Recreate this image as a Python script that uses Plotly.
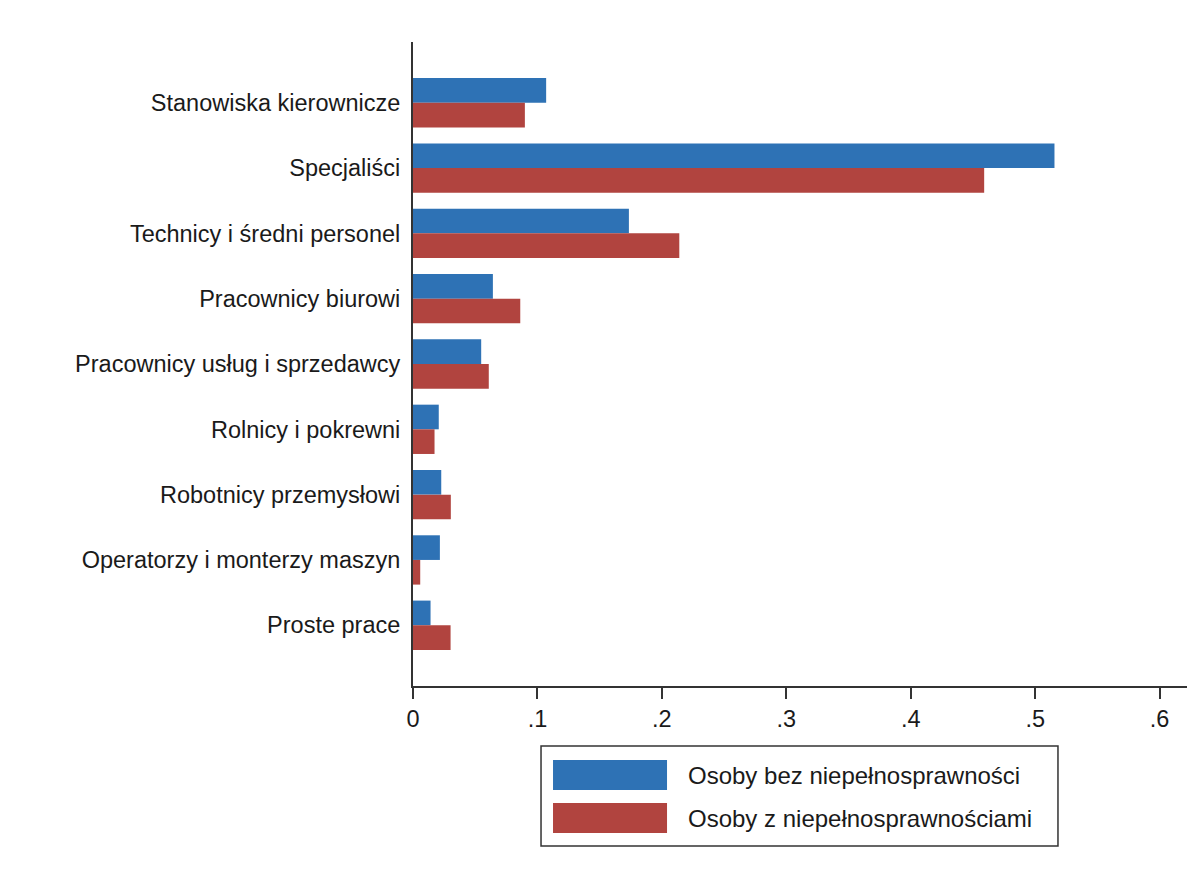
import plotly.graph_objects as go

categories = ["Stanowiska kierownicze", "Specjaliści", "Technicy i średni personel",
              "Pracownicy biurowi", "Pracownicy usług i sprzedawcy", "Rolnicy i pokrewni",
              "Robotnicy przemysłowi", "Operatorzy i monterzy maszyn", "Proste prace"]
bez = [0.107, 0.5155, 0.1735, 0.0642, 0.0548, 0.0207, 0.0227, 0.0216, 0.0141]
z = [0.0899, 0.459, 0.214, 0.0862, 0.0609, 0.0173, 0.0304, 0.0058, 0.0302]
series_names = ["Osoby bez niepełnosprawności", "Osoby z niepełnosprawnościami"]
tick_vals = [0, 0.1, 0.2, 0.3, 0.4, 0.5, 0.6]
tick_text = ["0", ".1", ".2", ".3", ".4", ".5", ".6"]

BLUE = "#2E72B5"
RED = "#B1443F"
FONT = "Liberation Sans, Arial, sans-serif"

fig = go.Figure()
fig.add_trace(go.Bar(y=categories, x=bez, orientation="h", name=series_names[0],
                     marker=dict(color=BLUE, line=dict(width=0)), showlegend=False))
fig.add_trace(go.Bar(y=categories, x=z, orientation="h", name=series_names[1],
                     marker=dict(color=RED, line=dict(width=0)), showlegend=False))

fig.update_layout(
    width=1195, height=870,
    margin=dict(l=405, r=16, t=34, b=192),
    paper_bgcolor="white", plot_bgcolor="white",
    barmode="group", bargap=0.245, bargroupgap=0,
    font=dict(family=FONT, size=23.5, color="#1a1a1a"),
    showlegend=False,
)
fig.update_yaxes(
    autorange=False, range=[8.93, -0.93],
    showline=True, linecolor="#333333", linewidth=2,
    ticks="", showgrid=False, zeroline=False,
    ticklabelstandoff=6, tickfont=dict(size=23.5),
)
fig.update_xaxes(
    range=[0, 0.622], tickvals=tick_vals, ticktext=tick_text,
    showline=True, linecolor="#333333", linewidth=2,
    ticks="outside", ticklen=11, tickwidth=2, tickcolor="#333333",
    showgrid=False, zeroline=False, tickfont=dict(size=23.5),
)

# custom legend
fig.add_shape(type="rect", xref="paper", yref="paper", x0=0.1654, x1=0.8333, y0=-0.2484, y1=-0.0932,
              line=dict(color="#333333", width=1.5), fillcolor="white")
fig.add_shape(type="rect", xref="paper", yref="paper", x0=0.1809, x1=0.3282, y0=-0.1615, y1=-0.1149,
              line=dict(width=0), fillcolor=BLUE)
fig.add_shape(type="rect", xref="paper", yref="paper", x0=0.1809, x1=0.3282, y0=-0.2283, y1=-0.1817,
              line=dict(width=0), fillcolor=RED)
fig.add_annotation(xref="paper", yref="paper", x=0.3527, y=-0.1382, text=series_names[0],
                   showarrow=False, xanchor="left", yanchor="middle", font=dict(size=24))
fig.add_annotation(xref="paper", yref="paper", x=0.3527, y=-0.205, text=series_names[1],
                   showarrow=False, xanchor="left", yanchor="middle", font=dict(size=24))

fig.write_html("out.html")
